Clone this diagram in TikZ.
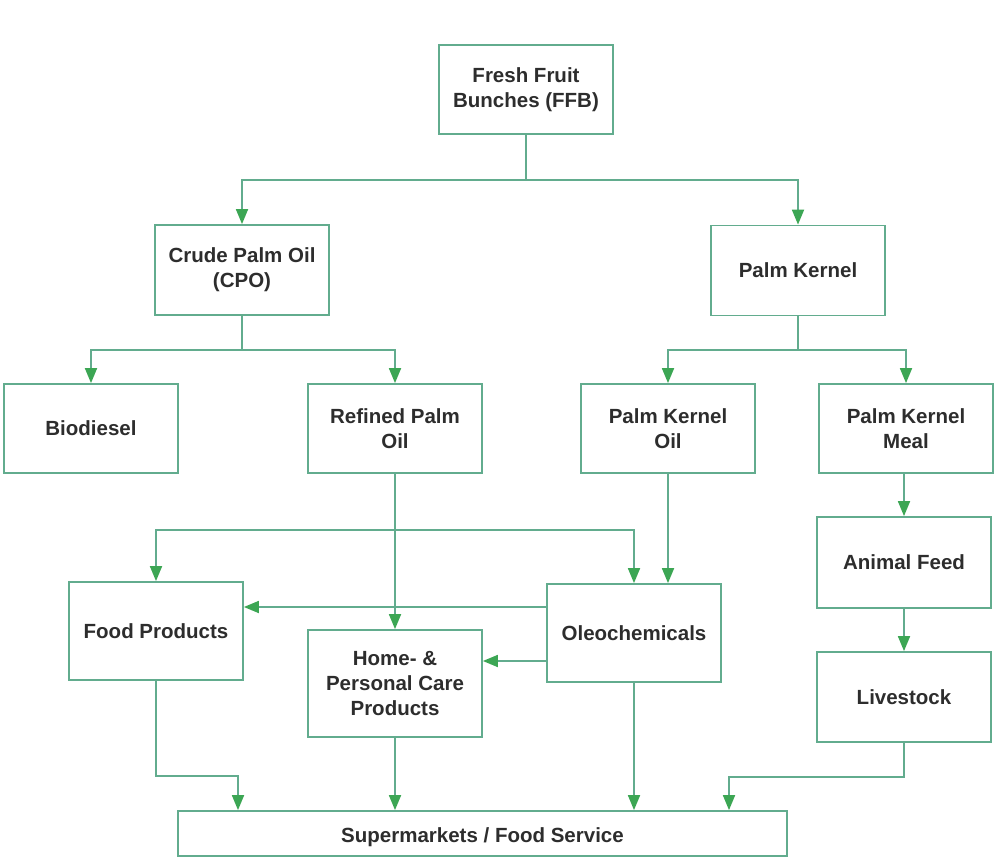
\documentclass[tikz,border=0pt]{standalone}
\usepackage{fontspec}
\setmainfont{Liberation Sans}
\usetikzlibrary{arrows.meta}
\definecolor{linegreen}{RGB}{98,172,142}
\definecolor{arrowgreen}{RGB}{60,166,84}
\definecolor{textgray}{RGB}{45,45,45}
\newcommand{\boxfont}{\fontsize{20.5}{25}\selectfont\bfseries}
\tikzset{
  box/.style={draw=linegreen, line width=1.8pt, fill=white, text=textgray, font=\boxfont, align=center, inner sep=0pt, minimum width=174pt, minimum height=89pt},
  link/.style={draw=linegreen, line width=1.8pt},
  conn/.style={link, -{Triangle[length=15pt,width=12pt,color=arrowgreen]}}
}
\begin{document}
\begin{tikzpicture}[x=1pt,y=-1pt]
\useasboundingbox (0,0) rectangle (1008,858);
\fill[white] (0,0) rectangle (1008,858);
% nodes
\node[box] (ffb) at (526,89.5) {Fresh Fruit\\Bunches (FFB)};
\node[box, minimum height=90pt] (cpo) at (242,270) {Crude Palm Oil\\(CPO)};
\node[box, minimum height=90pt] (pk) at (798,270.5) {Palm Kernel};
\node[box] (bio) at (91,428.5) {Biodiesel};
\node[box] (rpo) at (395,428.5) {Refined Palm\\Oil};
\node[box] (pko) at (668,428.5) {Palm Kernel\\Oil};
\node[box] (pkm) at (906,428.5) {Palm Kernel\\Meal};
\node[box, minimum height=91pt] (feed) at (904,562.5) {Animal Feed};
\node[box, minimum height=90pt] (live) at (904,697) {Livestock};
\node[box, minimum height=98pt] (food) at (156,631) {Food Products};
\node[box, minimum height=107pt] (home) at (395,683.5) {Home- \&\\Personal Care\\Products};
\node[box, minimum height=98pt] (oleo) at (634,633) {Oleochemicals};
\node[box, minimum width=609pt, minimum height=45pt, text depth=0pt, text height=0pt] (super) at (482.5,833.5) {\raisebox{-0.85ex}{Supermarkets / Food Service}};
% junction coordinates
\coordinate (j1) at (526,180);
\coordinate (j2) at (242,350);
\coordinate (j3) at (798,350);
\coordinate (r1) at (395,530);
\coordinate (y608) at (0,607);
\coordinate (y660) at (0,661);
\coordinate (f1) at (238,776);
\coordinate (l1) at (729,777);
% connectors
\draw[link] (ffb.south) -- (j1);
\draw[conn] (j1) -| (cpo.north);
\draw[conn] (j1) -| (pk.north);
\draw[link] (cpo.south) -- (j2);
\draw[conn] (j2) -| (bio.north);
\draw[conn] (j2) -| (rpo.north);
\draw[link] (pk.south) -- (j3);
\draw[conn] (j3) -| (pko.north);
\draw[conn] (j3) -| (pkm.north);
\draw[conn] (rpo.south) -- (rpo.south |- home.north);
\draw[conn] (r1) -| (food.north);
\draw[conn] (r1) -| (oleo.north);
\draw[conn] (pko.south) -- (pko.south |- oleo.north);
\draw[conn] (oleo.west |- y608) -- (food.east |- y608);
\draw[conn] (oleo.west |- y660) -- (home.east |- y660);
\draw[conn] (pkm.south -| feed.north) -- (feed.north);
\draw[conn] (feed.south) -- (live.north);
\draw[conn] (food.south) |- (f1) -- (super.north -| f1);
\draw[conn] (home.south) -- (super.north -| home.south);
\draw[conn] (oleo.south) -- (super.north -| oleo.south);
\draw[conn] (live.south) |- (l1) -- (super.north -| l1);
\end{tikzpicture}
\end{document}
